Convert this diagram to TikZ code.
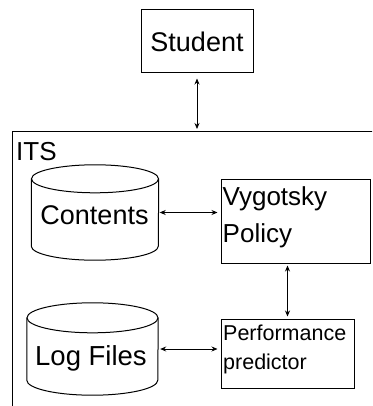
\documentclass[tikz,border=0pt]{standalone}
\usepackage{fontspec}
\setmainfont{Liberation Sans}
\usetikzlibrary{arrows.meta}
\begin{document}
\begin{tikzpicture}[x=1pt,y=-1pt,
  box/.style={draw, line width=1pt, inner sep=0pt},
  conn/.style={{Stealth[length=6pt,width=5pt]}-{Stealth[length=6pt,width=5pt]}, line width=0.8pt},
  cylline/.style={line width=1pt},
  lbl/.style={inner sep=0pt, anchor=base west}]
\clip (0,0) rectangle (372,406);
% Student
\node[box, minimum width=112pt, minimum height=63pt, font=\fontsize{27}{32}\selectfont] (student) at (197,41.5) {Student};
% ITS container
\node[box, anchor=north west, minimum width=420pt, minimum height=320pt] (its) at (11.5,131) {};
\node[lbl, font=\fontsize{26}{30}\selectfont] (itslbl) at (16,160) {ITS};
% Contents cylinder
\node[inner sep=0pt, minimum width=127pt, minimum height=95pt] (contents) at (95,212.5) {};
\draw[cylline] ([yshift=-14pt]contents.north west) -- ([yshift=14pt]contents.south west)
  arc[start angle=180, end angle=360, x radius=63.5pt, y radius=14pt] -- ([yshift=-14pt]contents.north east);
\draw[cylline] ([yshift=-14pt]contents.north) ellipse [x radius=63.5pt, y radius=14pt];
\node[inner sep=0pt, anchor=base, font=\fontsize{27}{32}\selectfont] (contentslbl) at (94.5,224) {Contents};
% Log files cylinder
\node[inner sep=0pt, minimum width=131pt, minimum height=92pt] (logf) at (92.5,349) {};
\draw[cylline] ([yshift=-15pt]logf.north west) -- ([yshift=15pt]logf.south west)
  arc[start angle=180, end angle=360, x radius=65.5pt, y radius=15pt] -- ([yshift=-15pt]logf.north east);
\draw[cylline] ([yshift=-15pt]logf.north) ellipse [x radius=65.5pt, y radius=15pt];
\node[inner sep=0pt, anchor=base, font=\fontsize{27.5}{32}\selectfont] (loglbl) at (91,365) {Log Files};
% Vygotsky Policy
\node[box, minimum width=149pt, minimum height=84pt] (vyg) at (295.5,221) {};
\node[lbl, font=\fontsize{26}{30}\selectfont] (vygl1) at (222.5,205) {Vygotsky};
\node[lbl, font=\fontsize{26}{30}\selectfont] (vygl2) at (222.5,242) {Policy};
% Performance predictor
\node[box, minimum width=133pt, minimum height=69pt] (perf) at (287.5,353.5) {};
\node[lbl, font=\fontsize{21.5}{26}\selectfont] (perfl1) at (223,340.5) {Performance};
\node[lbl, font=\fontsize{21.5}{26}\selectfont] (perfl2) at (223,369) {predictor};
% Connectors
\coordinate (itstop) at (student.south |- its.north);
\draw[conn, shorten <=5pt, shorten >=2pt] (student.south) -- (itstop);
\draw[conn, shorten <=1pt, shorten >=3pt] (contents.east) -- (vyg.west |- contents.east);
\draw[conn, shorten <=2pt, shorten >=2pt] (perf.north |- vyg.south) -- (perf.north);
\draw[conn, shorten <=2pt, shorten >=3pt] (logf.east) -- (perf.west |- logf.east);
\end{tikzpicture}
\end{document}
